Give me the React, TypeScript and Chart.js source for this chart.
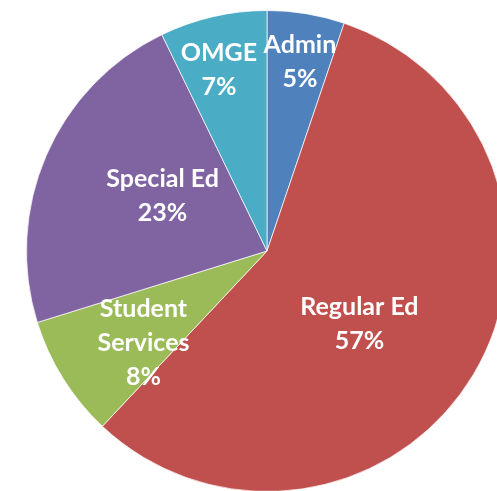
import React, { useEffect, useRef } from "react";
import { Chart, registerables } from "chart.js";

Chart.register(...registerables);

const categories = ["Admin", "Regular Ed", "Student Services", "Special Ed", "OMGE"];
const labelLines = [["Admin"], ["Regular Ed"], ["Student", "Services"], ["Special Ed"], ["OMGE"]];
const values = [5.2, 56.8, 8.2, 22.6, 7.2];
const colors = ["#4F81BD", "#C0504D", "#9BBB59", "#8064A2", "#4BACC6"];

// label placement: angle offset from slice mid-angle (deg) and radial fraction
const labelAngleOffset = [0.5, 7.4, -4.6, 4.2, -1.9];
const labelRadiusFrac = [0.8, 0.49, 0.64, 0.49, 0.78];

const labelPlugin = {
  id: "sliceLabels",
  afterDatasetsDraw(chart: any) {
    const ctx = chart.ctx;
    const meta = chart.getDatasetMeta(0);
    const data = chart.data.datasets[0].data as number[];
    const total = data.reduce((a, b) => a + b, 0);
    ctx.save();
    ctx.fillStyle = "#ffffff";
    ctx.font = "bold 25px Lato, 'Open Sans', sans-serif";
    ctx.textAlign = "center";
    ctx.textBaseline = "middle";
    const lineH = 34;
    meta.data.forEach((arc: any, i: number) => {
      const { x, y, startAngle, endAngle, outerRadius } = arc.getProps(
        ["x", "y", "startAngle", "endAngle", "outerRadius"],
        true
      );
      const mid = (startAngle + endAngle) / 2 + (labelAngleOffset[i] * Math.PI) / 180;
      const r = outerRadius * labelRadiusFrac[i];
      const cx = x + Math.cos(mid) * r;
      const cy = y + Math.sin(mid) * r;
      const lines = [...labelLines[i], Math.round((data[i] / total) * 100) + "%"];
      const top = cy - ((lines.length - 1) * lineH) / 2;
      lines.forEach((t, j) => ctx.fillText(t, cx, top + j * lineH));
    });
    ctx.restore();
  },
};

export default function App() {
  const ref = useRef<HTMLCanvasElement>(null);
  useEffect(() => {
    document.body.style.margin = "0";
    const chart = new Chart(ref.current!, {
      type: "pie",
      data: {
        labels: categories,
        datasets: [
          {
            data: values,
            backgroundColor: colors,
            borderColor: "rgba(255,255,255,0.7)",
            borderWidth: 1,
          },
        ],
      },
      options: {
        responsive: false,
        animation: false,
        layout: { padding: 10 },
        plugins: {
          legend: { display: false },
          tooltip: { enabled: false },
        },
      },
      plugins: [labelPlugin],
    });
    return () => chart.destroy();
  }, []);
  return (
    <div
      style={{
        position: "fixed",
        left: 0,
        top: 0,
        width: 497,
        height: 491,
        overflow: "hidden",
        background: "#fff",
      }}
    >
      <canvas ref={ref} width={534} height={502} style={{ width: 534, height: 502, display: "block" }} />
    </div>
  );
}
